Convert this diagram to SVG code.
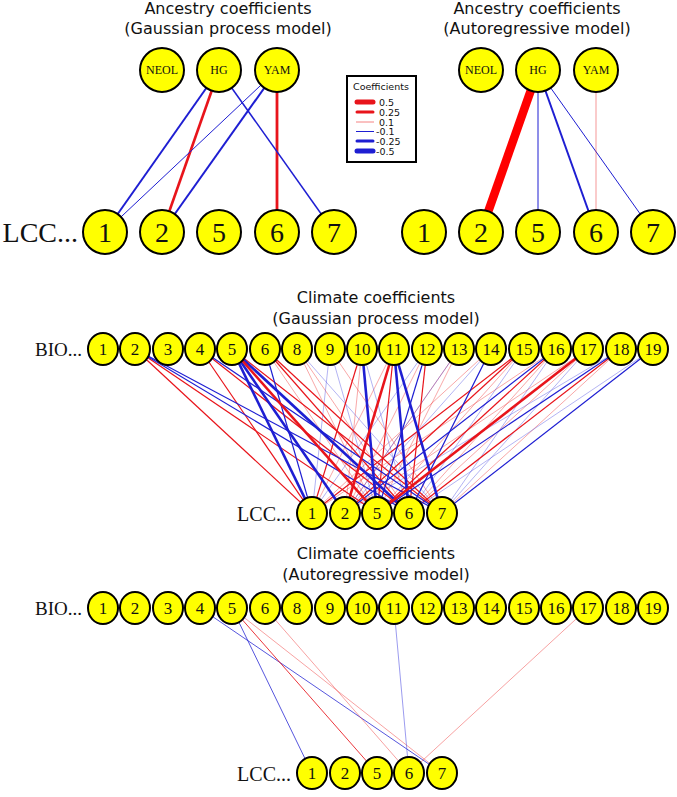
<svg xmlns="http://www.w3.org/2000/svg" width="677" height="797" viewBox="0 0 677 797">
<style>
.bg{fill:#ffffff}
.n{fill:#ffff00;stroke:#000;stroke-width:2}
.t{font-family:"DejaVu Sans",sans-serif;font-size:16px;text-anchor:middle;fill:#111}
.s{font-family:"Liberation Serif",serif;text-anchor:middle;fill:#111}
.sm{font-size:12px}
.big{font-size:28px}
.mid{font-size:17px}
.row{font-family:"Liberation Serif",serif;text-anchor:end;fill:#111}
.lg{font-family:"DejaVu Sans",sans-serif;font-size:9.5px;fill:#111}
line{fill:none}
.r{stroke:#e8141b;stroke-width:1.2}
.R{stroke:#e8141b;stroke-width:2.6}
.lr{stroke:#ee3030;stroke-width:1;stroke-opacity:.42}
.b{stroke:#1e1ed2;stroke-width:1.2}
.B{stroke:#1e1ed2;stroke-width:2.6}
.lb{stroke:#3a3ae0;stroke-width:1;stroke-opacity:.38}
.leg{stroke-linecap:round}
</style>
<rect class="bg" x="0" y="0" width="677" height="797"/>

<g id="titles">
<text class="t" x="228" y="14">Ancestry coefficients</text>
<text class="t" x="228" y="34">(Gaussian process model)</text>
<text class="t" x="537" y="14">Ancestry coefficients</text>
<text class="t" x="537" y="34">(Autoregressive model)</text>
<text class="t" x="376" y="303">Climate coefficients</text>
<text class="t" x="376" y="324">(Gaussian process model)</text>
<text class="t" x="376" y="559">Climate coefficients</text>
<text class="t" x="376" y="580">(Autoregressive model)</text>
</g>

<g id="row-labels">
<text class="row big" x="78" y="242">LCC...</text>
<text class="row" style="font-size:19px" x="82" y="356">BIO...</text>
<text class="row" style="font-size:20px" x="291" y="521">LCC...</text>
<text class="row" style="font-size:19px" x="82" y="615">BIO...</text>
<text class="row" style="font-size:20px" x="291" y="781">LCC...</text>
</g>

<g id="legend">
<rect x="347" y="76" width="69" height="86" fill="#fff" stroke="#000" stroke-width="2"/>
<text class="lg" x="353" y="90">Coefficients</text>
<line class="leg" x1="357" y1="102" x2="373" y2="102" stroke="#e8141b" stroke-width="5"/>
<line class="leg" x1="357" y1="112" x2="373" y2="112" stroke="#e8141b" stroke-width="3"/>
<line x1="356" y1="122" x2="374" y2="122" stroke="#ee3030" stroke-width="1" stroke-opacity=".6"/>
<line x1="356" y1="131.5" x2="374" y2="131.5" stroke="#1e1ed2" stroke-width="1"/>
<line class="leg" x1="357" y1="141" x2="373" y2="141" stroke="#1e1ed2" stroke-width="3"/>
<line class="leg" x1="357" y1="151" x2="373" y2="151" stroke="#1e1ed2" stroke-width="5"/>
<text class="lg" x="379" y="105.5">0.5</text>
<text class="lg" x="379" y="115.5">0.25</text>
<text class="lg" x="379" y="125.5">0.1</text>
<text class="lg" x="376" y="135">-0.1</text>
<text class="lg" x="376" y="144.5">-0.25</text>
<text class="lg" x="376" y="154.5">-0.5</text>
</g>

<g id="connectors">
<g id="anc-gp-edges">
<line x1="219" y1="70" x2="105" y2="232" stroke="#1e1ed2" stroke-width="2"/>
<line x1="219" y1="70" x2="162" y2="232" stroke="#e8141b" stroke-width="2.6"/>
<line x1="277" y1="70" x2="105" y2="232" stroke="#1e1ed2" stroke-width="1"/>
<line x1="277" y1="70" x2="162" y2="232" stroke="#1e1ed2" stroke-width="2"/>
<line x1="277" y1="70" x2="277" y2="232" stroke="#e8141b" stroke-width="2.8"/>
<line x1="219" y1="70" x2="334" y2="232" stroke="#1e1ed2" stroke-width="1.5"/>
</g>
<g id="anc-ar-edges">
<line x1="538" y1="70" x2="481" y2="232" stroke="#f00" stroke-width="8.5"/>
<line x1="538" y1="70" x2="538" y2="232" stroke="#1e1ed2" stroke-width="1"/>
<line x1="538" y1="70" x2="596" y2="232" stroke="#1e1ed2" stroke-width="2"/>
<line x1="538" y1="70" x2="653" y2="232" stroke="#1e1ed2" stroke-width="1"/>
<line x1="596" y1="70" x2="596" y2="232" stroke="#ee3030" stroke-width="1" stroke-opacity=".5"/>
</g>
<g id="clim-gp-edges">
<line class="lr" x1="232" y1="349" x2="409" y2="513"/>
<line class="lr" x1="265" y1="349" x2="377" y2="513"/>
<line class="lr" x1="297" y1="349" x2="377" y2="513"/>
<line class="lr" x1="297" y1="349" x2="409" y2="513"/>
<line class="lr" x1="330" y1="349" x2="442" y2="513"/>
<line class="lr" x1="362" y1="349" x2="345" y2="513"/>
<line class="lr" x1="394" y1="349" x2="312" y2="513"/>
<line class="lr" x1="427" y1="349" x2="345" y2="513"/>
<line class="lr" x1="459" y1="349" x2="377" y2="513"/>
<line class="lr" x1="459" y1="349" x2="345" y2="513"/>
<line class="lr" x1="491" y1="349" x2="312" y2="513"/>
<line class="lr" x1="524" y1="349" x2="377" y2="513"/>
<line class="lr" x1="556" y1="349" x2="409" y2="513"/>
<line class="lr" x1="588" y1="349" x2="409" y2="513"/>
<line class="lr" x1="588" y1="349" x2="345" y2="513"/>
<line class="lr" x1="621" y1="349" x2="442" y2="513"/>
<line class="lr" x1="556" y1="349" x2="312" y2="513"/>
<line class="lb" x1="297" y1="349" x2="442" y2="513"/>
<line class="lb" x1="330" y1="349" x2="312" y2="513"/>
<line class="lb" x1="330" y1="349" x2="377" y2="513"/>
<line class="lb" x1="362" y1="349" x2="409" y2="513"/>
<line class="lb" x1="427" y1="349" x2="312" y2="513"/>
<line class="lb" x1="459" y1="349" x2="345" y2="513"/>
<line class="lb" x1="491" y1="349" x2="345" y2="513"/>
<line class="lb" x1="524" y1="349" x2="409" y2="513"/>
<line class="lb" x1="588" y1="349" x2="442" y2="513"/>
<line class="lb" x1="621" y1="349" x2="345" y2="513"/>
<line class="lb" x1="653" y1="349" x2="409" y2="513"/>
<line class="lb" x1="556" y1="349" x2="442" y2="513"/>
<line class="r" x1="135" y1="349" x2="312" y2="513"/>
<line class="r" x1="135" y1="349" x2="377" y2="513"/>
<line class="r" x1="200" y1="349" x2="312" y2="513"/>
<line class="r" x1="200" y1="349" x2="409" y2="513"/>
<line class="r" x1="232" y1="349" x2="442" y2="513"/>
<line class="r" x1="265" y1="349" x2="409" y2="513"/>
<line class="r" x1="265" y1="349" x2="442" y2="513"/>
<line class="r" x1="362" y1="349" x2="312" y2="513"/>
<line class="r" x1="394" y1="349" x2="377" y2="513"/>
<line class="r" x1="427" y1="349" x2="409" y2="513"/>
<line class="r" x1="524" y1="349" x2="312" y2="513"/>
<line class="r" x1="524" y1="349" x2="345" y2="513"/>
<line class="r" x1="556" y1="349" x2="377" y2="513"/>
<line class="r" x1="621" y1="349" x2="409" y2="513"/>
<line class="b" x1="135" y1="349" x2="409" y2="513"/>
<line class="b" x1="135" y1="349" x2="442" y2="513"/>
<line class="b" x1="200" y1="349" x2="442" y2="513"/>
<line class="b" x1="265" y1="349" x2="312" y2="513"/>
<line class="b" x1="491" y1="349" x2="409" y2="513"/>
<line class="b" x1="556" y1="349" x2="345" y2="513"/>
<line class="b" x1="621" y1="349" x2="377" y2="513"/>
<line class="b" x1="653" y1="349" x2="442" y2="513"/>
<line class="b" x1="427" y1="349" x2="377" y2="513"/>
<line class="B" x1="232" y1="349" x2="312" y2="513"/>
<line class="B" x1="232" y1="349" x2="345" y2="513"/>
<line class="B" x1="232" y1="349" x2="409" y2="513"/>
<line class="B" x1="362" y1="349" x2="377" y2="513"/>
<line class="B" x1="394" y1="349" x2="409" y2="513"/>
<line class="B" x1="394" y1="349" x2="442" y2="513"/>
<line class="R" x1="232" y1="349" x2="377" y2="513"/>
<line class="R" x1="394" y1="349" x2="345" y2="513"/>
<line class="R" x1="588" y1="349" x2="377" y2="513"/>
</g>
<g id="clim-ar-edges">
<line x1="200" y1="608" x2="442" y2="773" stroke="#1e1ed2" stroke-width="1" stroke-opacity=".75"/>
<line x1="232" y1="608" x2="312" y2="773" stroke="#1e1ed2" stroke-width="1" stroke-opacity=".75"/>
<line x1="232" y1="608" x2="377" y2="773" stroke="#e8141b" stroke-width="1" stroke-opacity=".85"/>
<line x1="232" y1="608" x2="442" y2="773" stroke="#ee3030" stroke-width="1" stroke-opacity=".45"/>
<line x1="265" y1="608" x2="409" y2="773" stroke="#ee3030" stroke-width="1" stroke-opacity=".45"/>
<line x1="394" y1="608" x2="409" y2="773" stroke="#3a3ae0" stroke-width="1" stroke-opacity=".5"/>
<line x1="588" y1="608" x2="409" y2="773" stroke="#ee3030" stroke-width="1" stroke-opacity=".45"/>
</g>
</g>

<g id="anc-gp-nodes">
<g id="gp-neol"><circle class="n" cx="162" cy="70" r="22"/><text class="s sm" x="162" y="74">NEOL</text></g>
<g id="gp-hg"><circle class="n" cx="219" cy="70" r="22"/><text class="s sm" x="219" y="74">HG</text></g>
<g id="gp-yam"><circle class="n" cx="277" cy="70" r="22"/><text class="s sm" x="277" y="74">YAM</text></g>
<g id="gp-lcc1"><circle class="n" cx="105" cy="232" r="22"/><text class="s big" x="105" y="241.5">1</text></g>
<g id="gp-lcc2"><circle class="n" cx="162" cy="232" r="22"/><text class="s big" x="162" y="241.5">2</text></g>
<g id="gp-lcc5"><circle class="n" cx="219" cy="232" r="22"/><text class="s big" x="219" y="241.5">5</text></g>
<g id="gp-lcc6"><circle class="n" cx="277" cy="232" r="22"/><text class="s big" x="277" y="241.5">6</text></g>
<g id="gp-lcc7"><circle class="n" cx="334" cy="232" r="22"/><text class="s big" x="334" y="241.5">7</text></g>
</g>

<g id="anc-ar-nodes">
<g id="ar-neol"><circle class="n" cx="481" cy="70" r="22"/><text class="s sm" x="481" y="74">NEOL</text></g>
<g id="ar-hg"><circle class="n" cx="538" cy="70" r="22"/><text class="s sm" x="538" y="74">HG</text></g>
<g id="ar-yam"><circle class="n" cx="596" cy="70" r="22"/><text class="s sm" x="596" y="74">YAM</text></g>
<g id="ar-lcc1"><circle class="n" cx="424" cy="232" r="22"/><text class="s big" x="424" y="241.5">1</text></g>
<g id="ar-lcc2"><circle class="n" cx="481" cy="232" r="22"/><text class="s big" x="481" y="241.5">2</text></g>
<g id="ar-lcc5"><circle class="n" cx="538" cy="232" r="22"/><text class="s big" x="538" y="241.5">5</text></g>
<g id="ar-lcc6"><circle class="n" cx="596" cy="232" r="22"/><text class="s big" x="596" y="241.5">6</text></g>
<g id="ar-lcc7"><circle class="n" cx="653" cy="232" r="22"/><text class="s big" x="653" y="241.5">7</text></g>
</g>

<g id="clim-gp-nodes">
<g id="gp-bio1"><ellipse class="n" cx="103" cy="349" rx="15" ry="16"/><text class="s mid" x="103" y="355">1</text></g>
<g id="gp-bio2"><ellipse class="n" cx="135" cy="349" rx="15" ry="16"/><text class="s mid" x="135" y="355">2</text></g>
<g id="gp-bio3"><ellipse class="n" cx="168" cy="349" rx="15" ry="16"/><text class="s mid" x="168" y="355">3</text></g>
<g id="gp-bio4"><ellipse class="n" cx="200" cy="349" rx="15" ry="16"/><text class="s mid" x="200" y="355">4</text></g>
<g id="gp-bio5"><ellipse class="n" cx="232" cy="349" rx="15" ry="16"/><text class="s mid" x="232" y="355">5</text></g>
<g id="gp-bio6"><ellipse class="n" cx="265" cy="349" rx="15" ry="16"/><text class="s mid" x="265" y="355">6</text></g>
<g id="gp-bio8"><ellipse class="n" cx="297" cy="349" rx="15" ry="16"/><text class="s mid" x="297" y="355">8</text></g>
<g id="gp-bio9"><ellipse class="n" cx="330" cy="349" rx="15" ry="16"/><text class="s mid" x="330" y="355">9</text></g>
<g id="gp-bio10"><ellipse class="n" cx="362" cy="349" rx="15" ry="16"/><text class="s mid" x="362" y="355">10</text></g>
<g id="gp-bio11"><ellipse class="n" cx="394" cy="349" rx="15" ry="16"/><text class="s mid" x="394" y="355">11</text></g>
<g id="gp-bio12"><ellipse class="n" cx="427" cy="349" rx="15" ry="16"/><text class="s mid" x="427" y="355">12</text></g>
<g id="gp-bio13"><ellipse class="n" cx="459" cy="349" rx="15" ry="16"/><text class="s mid" x="459" y="355">13</text></g>
<g id="gp-bio14"><ellipse class="n" cx="491" cy="349" rx="15" ry="16"/><text class="s mid" x="491" y="355">14</text></g>
<g id="gp-bio15"><ellipse class="n" cx="524" cy="349" rx="15" ry="16"/><text class="s mid" x="524" y="355">15</text></g>
<g id="gp-bio16"><ellipse class="n" cx="556" cy="349" rx="15" ry="16"/><text class="s mid" x="556" y="355">16</text></g>
<g id="gp-bio17"><ellipse class="n" cx="588" cy="349" rx="15" ry="16"/><text class="s mid" x="588" y="355">17</text></g>
<g id="gp-bio18"><ellipse class="n" cx="621" cy="349" rx="15" ry="16"/><text class="s mid" x="621" y="355">18</text></g>
<g id="gp-bio19"><ellipse class="n" cx="653" cy="349" rx="15" ry="16"/><text class="s mid" x="653" y="355">19</text></g>
<g id="gp-clcc1"><ellipse class="n" cx="312" cy="513" rx="15" ry="16"/><text class="s mid" x="312" y="519">1</text></g>
<g id="gp-clcc2"><ellipse class="n" cx="345" cy="513" rx="15" ry="16"/><text class="s mid" x="345" y="519">2</text></g>
<g id="gp-clcc5"><ellipse class="n" cx="377" cy="513" rx="15" ry="16"/><text class="s mid" x="377" y="519">5</text></g>
<g id="gp-clcc6"><ellipse class="n" cx="409" cy="513" rx="15" ry="16"/><text class="s mid" x="409" y="519">6</text></g>
<g id="gp-clcc7"><ellipse class="n" cx="442" cy="513" rx="15" ry="16"/><text class="s mid" x="442" y="519">7</text></g>
</g>

<g id="clim-ar-nodes">
<g id="ar-bio1"><ellipse class="n" cx="103" cy="608" rx="15" ry="16"/><text class="s mid" x="103" y="614">1</text></g>
<g id="ar-bio2"><ellipse class="n" cx="135" cy="608" rx="15" ry="16"/><text class="s mid" x="135" y="614">2</text></g>
<g id="ar-bio3"><ellipse class="n" cx="168" cy="608" rx="15" ry="16"/><text class="s mid" x="168" y="614">3</text></g>
<g id="ar-bio4"><ellipse class="n" cx="200" cy="608" rx="15" ry="16"/><text class="s mid" x="200" y="614">4</text></g>
<g id="ar-bio5"><ellipse class="n" cx="232" cy="608" rx="15" ry="16"/><text class="s mid" x="232" y="614">5</text></g>
<g id="ar-bio6"><ellipse class="n" cx="265" cy="608" rx="15" ry="16"/><text class="s mid" x="265" y="614">6</text></g>
<g id="ar-bio8"><ellipse class="n" cx="297" cy="608" rx="15" ry="16"/><text class="s mid" x="297" y="614">8</text></g>
<g id="ar-bio9"><ellipse class="n" cx="330" cy="608" rx="15" ry="16"/><text class="s mid" x="330" y="614">9</text></g>
<g id="ar-bio10"><ellipse class="n" cx="362" cy="608" rx="15" ry="16"/><text class="s mid" x="362" y="614">10</text></g>
<g id="ar-bio11"><ellipse class="n" cx="394" cy="608" rx="15" ry="16"/><text class="s mid" x="394" y="614">11</text></g>
<g id="ar-bio12"><ellipse class="n" cx="427" cy="608" rx="15" ry="16"/><text class="s mid" x="427" y="614">12</text></g>
<g id="ar-bio13"><ellipse class="n" cx="459" cy="608" rx="15" ry="16"/><text class="s mid" x="459" y="614">13</text></g>
<g id="ar-bio14"><ellipse class="n" cx="491" cy="608" rx="15" ry="16"/><text class="s mid" x="491" y="614">14</text></g>
<g id="ar-bio15"><ellipse class="n" cx="524" cy="608" rx="15" ry="16"/><text class="s mid" x="524" y="614">15</text></g>
<g id="ar-bio16"><ellipse class="n" cx="556" cy="608" rx="15" ry="16"/><text class="s mid" x="556" y="614">16</text></g>
<g id="ar-bio17"><ellipse class="n" cx="588" cy="608" rx="15" ry="16"/><text class="s mid" x="588" y="614">17</text></g>
<g id="ar-bio18"><ellipse class="n" cx="621" cy="608" rx="15" ry="16"/><text class="s mid" x="621" y="614">18</text></g>
<g id="ar-bio19"><ellipse class="n" cx="653" cy="608" rx="15" ry="16"/><text class="s mid" x="653" y="614">19</text></g>
<g id="ar-clcc1"><ellipse class="n" cx="312" cy="773" rx="15" ry="16"/><text class="s mid" x="312" y="779">1</text></g>
<g id="ar-clcc2"><ellipse class="n" cx="345" cy="773" rx="15" ry="16"/><text class="s mid" x="345" y="779">2</text></g>
<g id="ar-clcc5"><ellipse class="n" cx="377" cy="773" rx="15" ry="16"/><text class="s mid" x="377" y="779">5</text></g>
<g id="ar-clcc6"><ellipse class="n" cx="409" cy="773" rx="15" ry="16"/><text class="s mid" x="409" y="779">6</text></g>
<g id="ar-clcc7"><ellipse class="n" cx="442" cy="773" rx="15" ry="16"/><text class="s mid" x="442" y="779">7</text></g>
</g>
</svg>
